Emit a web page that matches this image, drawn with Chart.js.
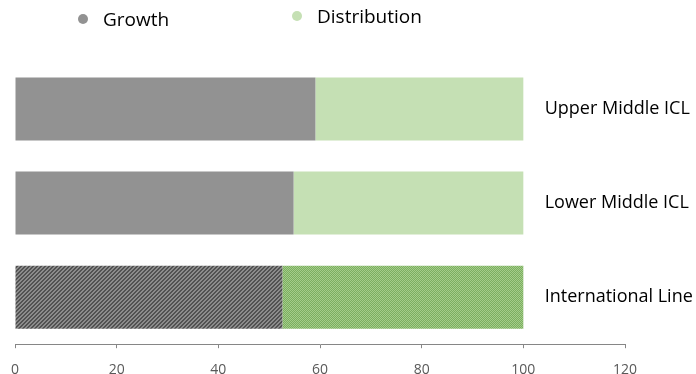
<!DOCTYPE html>
<html>
<head>
<meta charset="utf-8">
<script src="https://cdn.jsdelivr.net/npm/chart.js@4.4.0/dist/chart.umd.min.js"></script>
<style>
  html, body { margin: 0; padding: 0; background: #fff; }
  #wrap { width: 696px; height: 374px; }
</style>
</head>
<body>
<div id="wrap"><canvas id="myChart" width="696" height="374"></canvas></div>
<script>
var categories = ["Upper Middle ICL", "Lower Middle ICL", "International Line"];
var growth = [59.1, 54.8, 52.6];
var distribution = [40.9, 45.2, 47.4];
var xTicks = [0, 20, 40, 60, 80, 100, 120];

var FONT = "'Open Sans', 'Noto Sans', sans-serif";

// hatched fill for the last bar
function stripes(dark, light) {
  var c = document.createElement("canvas");
  c.width = 4;
  c.height = 4;
  var g = c.getContext("2d");
  for (var x = 0; x < 4; x++) {
    for (var y = 0; y < 4; y++) {
      g.fillStyle = (x + y) % 4 < 2 ? light : dark;
      g.fillRect(x, y, 1, 1);
    }
  }
  return g.createPattern(c, "repeat");
}

function dots(a, b) {
  var c = document.createElement("canvas");
  c.width = 2;
  c.height = 2;
  var g = c.getContext("2d");
  g.fillStyle = a;
  g.fillRect(0, 0, 2, 2);
  g.fillStyle = b;
  g.fillRect(0, 0, 1, 1);
  g.fillRect(1, 1, 1, 1);
  return g.createPattern(c, "repeat");
}

var grey = "#929292";
var green = "#c5e0b4";

// category names drawn inside the plot, right of the bars
var rightLabels = {
  id: "rightLabels",
  afterDatasetsDraw: function (chart) {
    var ctx = chart.ctx;
    var xs = chart.scales.x;
    var ys = chart.scales.y;
    ctx.save();
    ctx.font = "18px " + FONT;
    ctx.fillStyle = "#000";
    ctx.textAlign = "left";
    ctx.textBaseline = "middle";
    categories.forEach(function (lab, i) {
      ctx.fillText(lab, xs.getPixelForValue(104.2), ys.getPixelForValue(i));
    });
    ctx.restore();
  },
};

// legend at the top, items spaced like the original
var topLegend = {
  id: "topLegend",
  afterDraw: function (chart) {
    var ctx = chart.ctx;
    var spots = [
      { x: 83, y: 21 },
      { x: 297, y: 18 },
    ];
    var colors = [grey, green];
    ctx.save();
    ctx.font = "19px " + FONT;
    ctx.textBaseline = "middle";
    chart.data.datasets.forEach(function (ds, i) {
      ctx.fillStyle = colors[i];
      ctx.beginPath();
      ctx.arc(spots[i].x, spots[i].y - 2, 5, 0, Math.PI * 2);
      ctx.fill();
      ctx.fillStyle = "#000";
      ctx.fillText(ds.label, spots[i].x + 20, spots[i].y);
    });
    ctx.restore();
  },
};

var ctx = document.getElementById("myChart").getContext("2d");

var myChart = new Chart(ctx, {
  type: "bar",
  data: {
    labels: categories,
    datasets: [
      {
        label: "Growth",
        data: growth,
        backgroundColor: [grey, grey, stripes("#525252", "#8c8c8c")],
      },
      {
        label: "Distribution",
        data: distribution,
        backgroundColor: [green, green, dots("#7bae60", "#a4cd8a")],
      },
    ],
  },
  options: {
    responsive: false,
    animation: false,
    indexAxis: "y",
    barPercentage: 0.67,
    categoryPercentage: 1,
    layout: {
      padding: { left: 15, right: 71, top: 62, bottom: -17 },
    },
    plugins: {
      legend: { display: false },
      tooltip: { enabled: false },
    },
    scales: {
      y: {
        stacked: true,
        display: false,
      },
      x: {
        stacked: true,
        min: 0,
        max: 120,
        afterBuildTicks: function (axis) {
          axis.ticks = xTicks.map(function (v) {
            return { value: v };
          });
        },
        afterFit: function (axis) {
          axis.paddingLeft = 0;
          axis.paddingRight = 0;
        },
        grid: {
          drawOnChartArea: false,
          color: "#868686",
          tickLength: 4,
        },
        border: { color: "#868686", width: 1 },
        ticks: {
          padding: 13,
          color: "#595959",
          font: { family: FONT, size: 14 },
        },
      },
    },
  },
  plugins: [rightLabels, topLegend],
});
</script>
</body>
</html>
